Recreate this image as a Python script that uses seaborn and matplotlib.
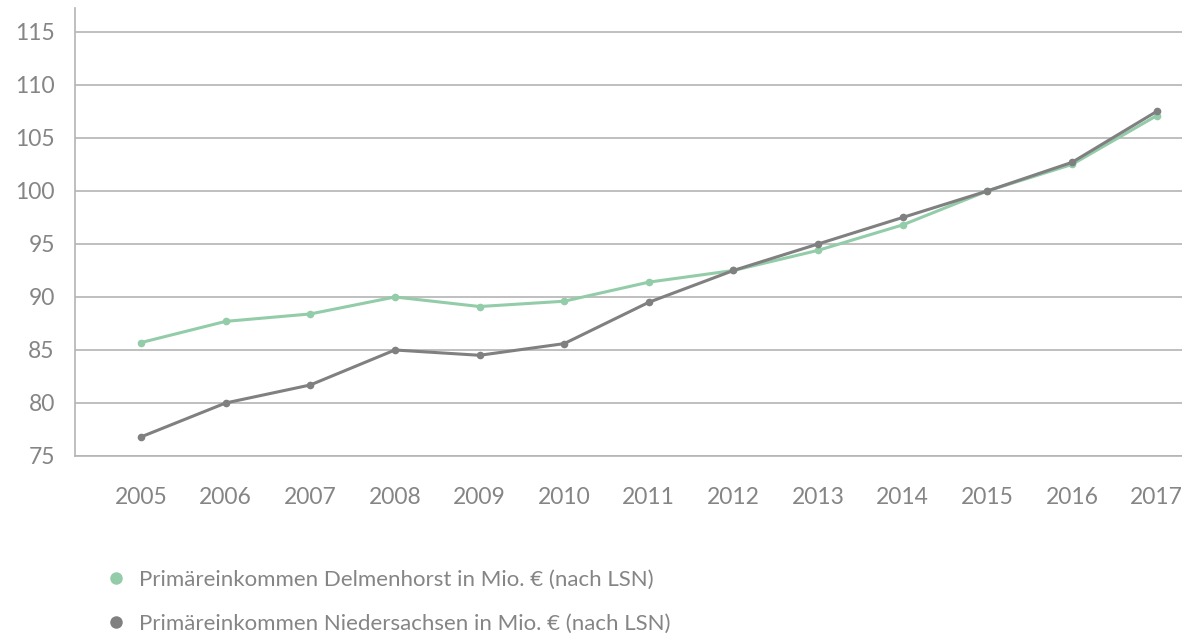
import matplotlib
matplotlib.use("Agg")
import matplotlib.pyplot as plt
from matplotlib.lines import Line2D
import seaborn as sns
import pandas as pd

# Data
years = [2005, 2006, 2007, 2008, 2009, 2010, 2011, 2012, 2013, 2014, 2015, 2016, 2017]
delmenhorst = [85.7, 87.7, 88.4, 90.0, 89.1, 89.6, 91.4, 92.5, 94.4, 96.8, 100.0, 102.5, 107.1]
niedersachsen = [76.8, 80.0, 81.7, 85.0, 84.5, 85.6, 89.5, 92.5, 95.0, 97.5, 100.0, 102.7, 107.5]
y_ticks = [75, 80, 85, 90, 95, 100, 105, 110, 115]
labels = ["Primäreinkommen Delmenhorst in Mio. € (nach LSN)",
          "Primäreinkommen Niedersachsen in Mio. € (nach LSN)"]

green = "#93cca9"
grey = "#808080"
text_grey = "#858585"
grid_grey = "#b4b4b4"

df = pd.DataFrame({
    "Jahr": years * 2,
    "Wert": delmenhorst + niedersachsen,
    "Reihe": [labels[0]] * len(years) + [labels[1]] * len(years),
})

sns.set_theme(style="white")
plt.rcParams["font.family"] = ["Lato", "DejaVu Sans"]

fig = plt.figure(figsize=(11.82, 6.36), dpi=100)
ax = fig.add_axes([75 / 1182, (636 - 456) / 636, (1182 - 75) / 1182, (456 - 8) / 636])

sns.lineplot(data=df, x="Jahr", y="Wert", hue="Reihe", palette=[green, grey],
             marker="o", markersize=5.5, markeredgewidth=0, linewidth=2.2,
             legend=False, ax=ax)

ax.set_xlim(2004.22, 2017.3)
ax.set_ylim(75, 117.26)
ax.set_yticks(y_ticks)
ax.set_xticks(years)
ax.yaxis.grid(True, color=grid_grey, linewidth=1.2)
ax.set_axisbelow(True)
ax.set_xlabel("")
ax.set_ylabel("")
ax.tick_params(axis="both", length=0, labelsize=16.5, labelcolor=text_grey)
ax.tick_params(axis="x", pad=22)
ax.tick_params(axis="y", pad=14.5)
for s in ["top", "right"]:
    ax.spines[s].set_visible(False)
for s in ["left", "bottom"]:
    ax.spines[s].set_color(grid_grey)
    ax.spines[s].set_linewidth(1.2)

handles = [Line2D([], [], marker="o", linestyle="", color=c, markersize=9, markeredgewidth=0)
           for c in [green, grey]]
leg = fig.legend(handles, labels, loc="upper left", bbox_to_anchor=(88 / 1182, 1 - 559 / 636),
                 frameon=False, fontsize=16, labelspacing=1.05, handletextpad=0.3,
                 handlelength=1.5, borderpad=0)
for t in leg.get_texts():
    t.set_color(text_grey)

fig.savefig("out.png", dpi=100)
